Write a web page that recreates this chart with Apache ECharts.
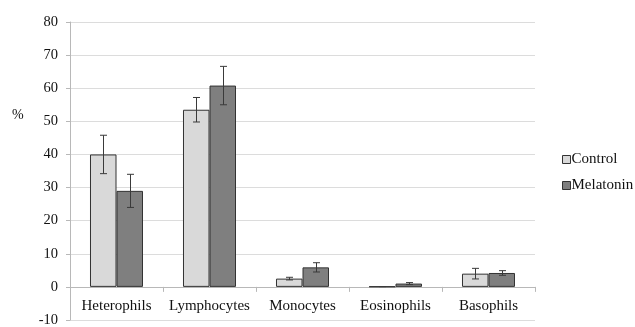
<!DOCTYPE html>
<html><head><meta charset="utf-8">
<script src="https://cdn.jsdelivr.net/npm/echarts@6/dist/echarts.min.js"></script>
<style>html,body{margin:0;padding:0;background:#fff}#c{width:635px;height:327px}</style>
</head><body><div id="c"></div>
<script>
const categories = ['Heterophils','Lymphocytes','Monocytes','Eosinophils','Basophils'];
const controlValues = [40, 53.5, 2.5, 0.1, 4.0];
const controlErrors = [5.8, 3.7, 0.4, 0, 1.6];
const melatoninValues = [29, 60.8, 5.9, 1.0, 4.2];
const melatoninErrors = [5.0, 5.8, 1.4, 0.3, 0.7];
const yTicks = { min: -10, max: 80, interval: 10 };

const gapPct = 0.43;
function errSeries(vals, errs, side) {
  return {
    type: 'custom', z: 10, silent: true,
    data: vals.map((v, i) => [i, v - errs[i], v + errs[i]]),
    renderItem: function (params, api) {
      const band = api.size([1, 0])[0];
      const bw = band * (1 - gapPct) / 2;
      const i = api.value(0);
      const lo = api.coord([i, api.value(1)]);
      const hi = api.coord([i, api.value(2)]);
      const x = Math.round(lo[0] + side * bw / 2) + 0.5;
      const cap = 3.5;
      const st = { stroke: '#3a3a3a', lineWidth: 1 };
      return { type: 'group', children: [
        { type: 'line', shape: { x1: x, y1: hi[1], x2: x, y2: lo[1] }, style: st },
        { type: 'line', shape: { x1: x - cap, y1: hi[1], x2: x + cap, y2: hi[1] }, style: st },
        { type: 'line', shape: { x1: x - cap, y1: lo[1], x2: x + cap, y2: lo[1] }, style: st }
      ]};
    }
  };
}

const chart = echarts.init(document.getElementById('c'));
const font = 'Liberation Serif';
chart.setOption({
  animation: false,
  textStyle: { fontFamily: font },
  grid: { left: 70, right: 100, top: 22, bottom: 7, containLabel: false, outerBoundsMode: 'none' },
  legend: {
    orient: 'vertical', left: 557, top: 147, itemWidth: 8, itemHeight: 8, itemGap: 11,
    icon: 'rect',
    itemStyle: { borderColor: '#333', borderWidth: 1 },
    textStyle: { fontFamily: font, fontSize: 15, color: '#111', padding: [0, 0, 0, -4] },
    data: ['Control', 'Melatonin']
  },
  graphic: [{ type: 'text', left: 12, top: 108, style: { text: '%', font: '14px "Liberation Serif"', fill: '#111' } }],
  xAxis: {
    type: 'category', data: categories,
    axisLine: { onZero: true, lineStyle: { color: '#b8b8b8' } },
    axisTick: { show: true, length: 5, lineStyle: { color: '#b8b8b8' } },
    axisLabel: { fontFamily: font, fontSize: 15, color: '#111', margin: -21, interval: 0 },
    splitLine: { show: false }
  },
  yAxis: {
    type: 'value', min: yTicks.min, max: yTicks.max, interval: yTicks.interval,
    axisLine: { show: true, lineStyle: { color: '#b8b8b8' } },
    axisTick: { show: true, length: 4, lineStyle: { color: '#b8b8b8' } },
    axisLabel: { fontFamily: font, fontSize: 14.5, color: '#111', margin: 12 },
    splitLine: { lineStyle: { color: '#dcdcdc', width: 1 } }
  },
  series: [
    { name: 'Control', type: 'bar', data: controlValues, barGap: '0%', barCategoryGap: '43%',
      itemStyle: { color: '#d9d9d9', borderColor: '#333', borderWidth: 1 } },
    { name: 'Melatonin', type: 'bar', data: melatoninValues, barGap: '0%', barCategoryGap: '43%',
      itemStyle: { color: '#7f7f7f', borderColor: '#333', borderWidth: 1 } },
    errSeries(controlValues, controlErrors, -1),
    errSeries(melatoninValues, melatoninErrors, 1)
  ]
});
</script></body></html>
